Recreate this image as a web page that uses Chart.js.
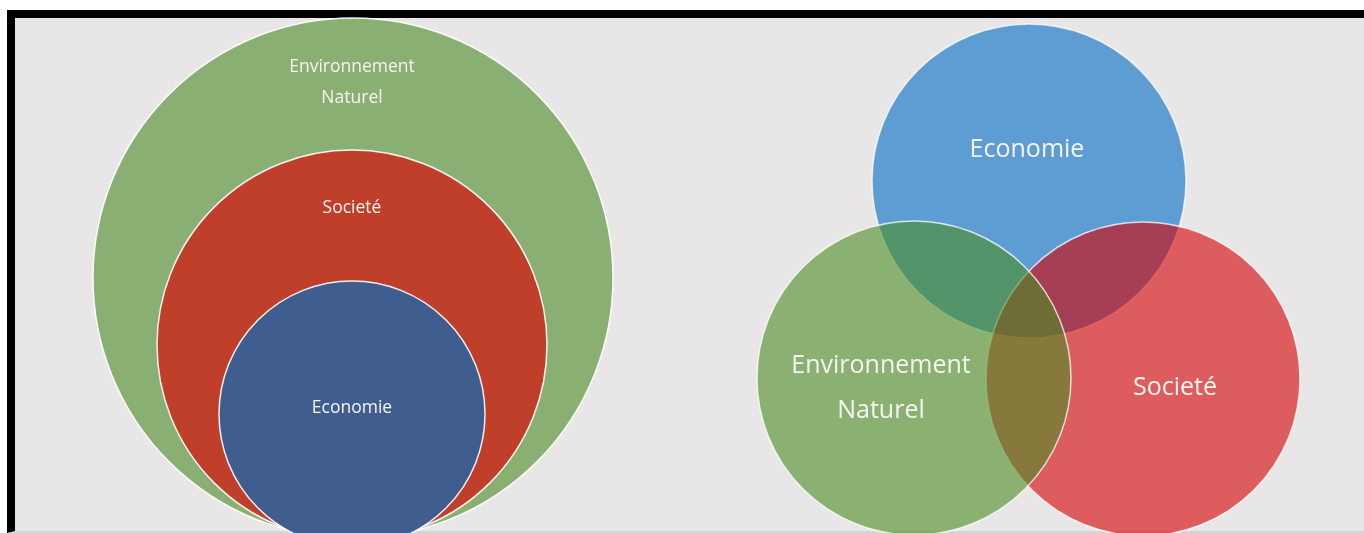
<!DOCTYPE html>
<html>
<head>
<meta charset="utf-8">
<script src="https://cdn.jsdelivr.net/npm/chart.js@4.4.1/dist/chart.umd.min.js"></script>
<style>
  html, body { margin: 0; padding: 0; background: #fff; overflow: hidden; }
  #frame {
    position: absolute; left: 7px; top: 10px; right: 0; bottom: 0;
    border-top: 8px solid #000; border-left: 8px solid #000;
    border-bottom: 2px solid #d6d4d6;
    background: #e9e6e8;
  }
  #wrap { position: absolute; left: 0; top: 0; width: 1364px; height: 533px; }
</style>
</head>
<body>
<div id="frame"></div>
<div id="wrap"><canvas id="diagramme"></canvas></div>
<script>
// cercles imbriqués (gauche) : environnement > société > économie
var nestedNames = ["Environnement Naturel", "Societé", "Economie"];
var nestedX = [353, 352, 352];
var nestedY = [278, 345, 414];
var nestedR = [260, 195, 133];

// diagramme de Venn (droite) - ordre de dessin : bleu, rouge, vert
var vennNames = ["Economie", "Societé", "Environnement Naturel"];
var vennX = [1029, 1143, 914];
var vennY = [181, 379, 378];
var vennR = [157, 157, 157];

function toPoints(xs, ys, rs) {
  return xs.map(function (x, i) { return { x: x, y: ys[i], s: rs[i] }; });
}

// rayon en unités de l'axe x -> pixels
function radiusFromScale(c) {
  var xs = c.chart.scales.x;
  if (!c.raw) return 0;
  var r = Math.abs(xs.getPixelForValue(c.raw.s) - xs.getPixelForValue(0));
  return isFinite(r) ? r : 0;
}

// textes posés sur les cercles
var circleLabels = {
  id: "circleLabels",
  afterDatasetsDraw: function (chart, args, opts) {
    var ctx = chart.ctx;
    var xs = chart.scales.x, ys = chart.scales.y;
    ctx.save();
    ctx.fillStyle = opts.color;
    ctx.textAlign = "center";
    ctx.textBaseline = "alphabetic";
    opts.items.forEach(function (it) {
      ctx.font = it.size + "px 'Open Sans', sans-serif";
      it.lines.forEach(function (line, k) {
        ctx.fillText(line, xs.getPixelForValue(it.x), ys.getPixelForValue(it.y[k]));
      });
    });
    ctx.restore();
  }
};

new Chart(document.getElementById("diagramme"), {
  type: "scatter",
  data: {
    datasets: [
      {
        label: "Venn",
        data: toPoints(vennX, vennY, vennR),
        pointBackgroundColor: ["rgba(0,108,197,0.6)", "rgba(214,0,0,0.6)", "rgba(75,140,35,0.6)"],
        pointBorderColor: "rgba(255,255,255,0.75)",
        pointBorderWidth: 1.5,
        pointRadius: radiusFromScale,
        showLine: false
      },
      {
        label: "Imbriqués",
        data: toPoints(nestedX, nestedY, nestedR),
        pointBackgroundColor: ["#8aaf72", "#bf3f2b", "#3f5d8e"],
        pointBorderColor: "rgba(255,255,255,0.9)",
        pointBorderWidth: 1.5,
        pointRadius: radiusFromScale,
        showLine: false
      }
    ]
  },
  options: {
    responsive: true,
    maintainAspectRatio: false,
    animation: false,
    events: [],
    layout: { padding: 0 },
    scales: {
      x: { type: "linear", min: 0, max: 1364, display: false },
      y: { type: "linear", min: 0, max: 533, reverse: true, display: false }
    },
    plugins: {
      legend: { display: false },
      tooltip: { enabled: false },
      circleLabels: {
        color: "#f6f4f2",
        items: [
          { lines: ["Environnement", "Naturel"], x: 352, y: [72, 103], size: 17.5 },
          { lines: ["Societé"], x: 352, y: [213], size: 17.5 },
          { lines: ["Economie"], x: 352, y: [413], size: 17.5 },
          { lines: ["Economie"], x: 1027, y: [157], size: 25 },
          { lines: ["Environnement", "Naturel"], x: 881, y: [373, 418], size: 25 },
          { lines: ["Societé"], x: 1175, y: [395], size: 25 }
        ]
      }
    }
  },
  plugins: [circleLabels]
});
</script>
</body>
</html>
